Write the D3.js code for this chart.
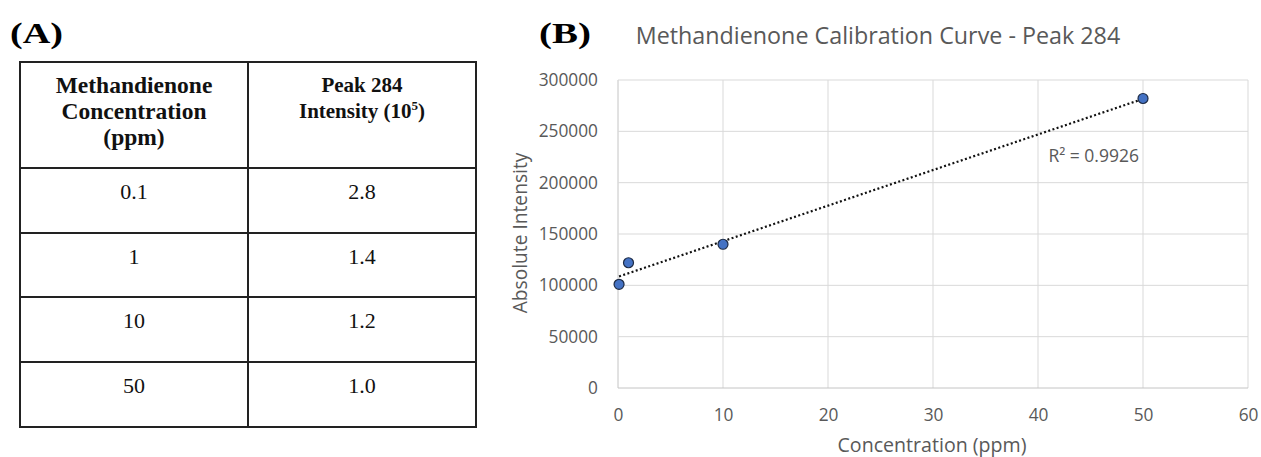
<!DOCTYPE html>
<html>
<head>
<meta charset="utf-8">
<script src="https://cdn.jsdelivr.net/npm/d3@7"></script>
<style>
  html, body { margin: 0; padding: 0; background: #fff; }
  svg { display: block; }
</style>
</head>
<body>
<svg id="chart" width="1261" height="457"></svg>
<script>
// ---------- data ----------
const tableHeaderLeft = ["Methandienone", "Concentration", "(ppm)"];
const tableHeaderRight = ["Peak 284", "Intensity (10"];
const tableConc = ["0.1", "1", "10", "50"];
const tablePeak = ["2.8", "1.4", "1.2", "1.0"];

const concentration = [0.1, 1, 10, 50];
const intensity = [101000, 122000, 140000, 282000];
const xTicks = [0, 10, 20, 30, 40, 50, 60];
const yTicks = [0, 50000, 100000, 150000, 200000, 250000, 300000];
const chartTitle = "Methandienone Calibration Curve - Peak 284";
const xLabel = "Concentration (ppm)";
const yLabel = "Absolute Intensity";
const r2Label = "R² = 0.9926";

// ---------- setup ----------
const svg = d3.select("#chart");
const serif = "'Liberation Serif', 'Times New Roman', serif";
const sans = "'Open Sans', 'Noto Sans', sans-serif";
const grey = "#595959";

// panel labels
svg.append("text").attr("x", 10).attr("y", 43)
  .attr("font-family", serif).attr("font-weight", "bold").attr("font-size", 29)
  .attr("textLength", 53).attr("lengthAdjust", "spacingAndGlyphs")
  .text("(A)");
svg.append("text").attr("x", 539).attr("y", 43)
  .attr("font-family", serif).attr("font-weight", "bold").attr("font-size", 29)
  .attr("textLength", 52).attr("lengthAdjust", "spacingAndGlyphs")
  .text("(B)");

// ---------- table (A) ----------
const colX = [20, 248, 476];
const rowY = [62, 168, 233, 297, 362, 427];
const tbl = svg.append("g");
tbl.selectAll("line.h").data(rowY).join("line")
  .attr("x1", colX[0] - 1).attr("x2", colX[2] + 1)
  .attr("y1", d => d).attr("y2", d => d)
  .attr("stroke", "#222").attr("stroke-width", 2);
tbl.selectAll("line.v").data(colX).join("line")
  .attr("y1", rowY[0]).attr("y2", rowY[rowY.length - 1])
  .attr("x1", d => d).attr("x2", d => d)
  .attr("stroke", "#222").attr("stroke-width", 2);

const c1 = (colX[0] + colX[1]) / 2, c2 = (colX[1] + colX[2]) / 2;
tbl.selectAll("text.hl").data(tableHeaderLeft).join("text")
  .attr("x", c1).attr("y", (d, i) => 93 + i * 26)
  .attr("text-anchor", "middle").attr("font-family", serif)
  .attr("font-weight", "bold").attr("font-size", 23.5).attr("fill", "#111")
  .text(d => d);
tbl.selectAll("text.hr").data(tableHeaderRight).join("text")
  .attr("x", c2).attr("y", (d, i) => 92 + i * 26)
  .attr("text-anchor", "middle").attr("font-family", serif)
  .attr("font-weight", "bold").attr("font-size", 21).attr("fill", "#111")
  .each(function(d, i) {
    const t = d3.select(this);
    t.append("tspan").text(d);
    if (i === 1) {
      t.append("tspan").attr("font-size", 13).attr("dy", -8).text("5");
      t.append("tspan").attr("dy", 8).text(")");
    }
  });
tbl.selectAll("text.c1").data(tableConc).join("text")
  .attr("x", c1).attr("y", (d, i) => rowY[i + 1] + 31)
  .attr("text-anchor", "middle").attr("font-family", serif)
  .attr("font-size", 22).attr("fill", "#111").text(d => d);
tbl.selectAll("text.c2").data(tablePeak).join("text")
  .attr("x", c2).attr("y", (d, i) => rowY[i + 1] + 31)
  .attr("text-anchor", "middle").attr("font-family", serif)
  .attr("font-size", 22).attr("fill", "#111").text(d => d);

// ---------- chart (B) ----------
const x = d3.scaleLinear().domain([0, 60]).range([618, 1248]);
const y = d3.scaleLinear().domain([0, 300000]).range([388, 80]);

const g = svg.append("g");
// gridlines
g.selectAll("line.gx").data(xTicks).join("line")
  .attr("x1", d => x(d)).attr("x2", d => x(d))
  .attr("y1", y(0)).attr("y2", y(300000))
  .attr("stroke", d => d === 0 ? "#c4c4c4" : "#d9d9d9").attr("stroke-width", 1);
g.selectAll("line.gy").data(yTicks).join("line")
  .attr("x1", x(0)).attr("x2", x(60))
  .attr("y1", d => y(d)).attr("y2", d => y(d))
  .attr("stroke", d => d === 0 ? "#c4c4c4" : "#d9d9d9").attr("stroke-width", 1);

// axes (labels only)
const xAxis = g.append("g").attr("transform", `translate(0,${y(0)})`)
  .call(d3.axisBottom(x).tickValues(xTicks).tickSize(0).tickPadding(21).tickFormat(d3.format("d")));
const yAxis = g.append("g").attr("transform", `translate(${x(0)},0)`)
  .call(d3.axisLeft(y).tickValues(yTicks).tickSize(0).tickPadding(20).tickFormat(d3.format("d")));
[xAxis, yAxis].forEach(a => {
  a.select(".domain").remove();
  a.selectAll("text").attr("font-family", sans).attr("font-size", 17.3).attr("fill", grey);
});

// trendline (least squares)
const n = concentration.length;
const mx = d3.mean(concentration), my = d3.mean(intensity);
let sxy = 0, sxx = 0;
for (let i = 0; i < n; i++) {
  sxy += (concentration[i] - mx) * (intensity[i] - my);
  sxx += (concentration[i] - mx) ** 2;
}
const slope = sxy / sxx, intercept = my - slope * mx;
const xr = d3.extent(concentration);
g.append("path")
  .datum(xr.map(v => [v, intercept + slope * v]))
  .attr("d", d3.line().x(d => x(d[0])).y(d => y(d[1])))
  .attr("fill", "none").attr("stroke", "#111").attr("stroke-width", 2.2)
  .attr("stroke-dasharray", "2,2.4");

// points
g.selectAll("circle").data(concentration.map((c, i) => [c, intensity[i]])).join("circle")
  .attr("cx", d => x(d[0])).attr("cy", d => y(d[1])).attr("r", 5)
  .attr("fill", "#4472c4").attr("stroke", "#1d2b45").attr("stroke-width", 1.2);

// R² label
g.append("text").attr("x", x(50) - 4).attr("y", y(220000))
  .attr("text-anchor", "end").attr("font-family", sans).attr("font-size", 17.5)
  .attr("fill", grey).text(r2Label);

// title & axis titles
svg.append("text").attr("x", 878).attr("y", 44).attr("text-anchor", "middle")
  .attr("font-family", sans).attr("font-size", 23.3).attr("fill", grey).text(chartTitle);
svg.append("text").attr("x", 932).attr("y", 452).attr("text-anchor", "middle")
  .attr("font-family", sans).attr("font-size", 19.6).attr("fill", grey).text(xLabel);
svg.append("text").attr("transform", "translate(527,233) rotate(-90)").attr("text-anchor", "middle")
  .attr("font-family", sans).attr("font-size", 19.2).attr("fill", grey).text(yLabel);
</script>
</body>
</html>
